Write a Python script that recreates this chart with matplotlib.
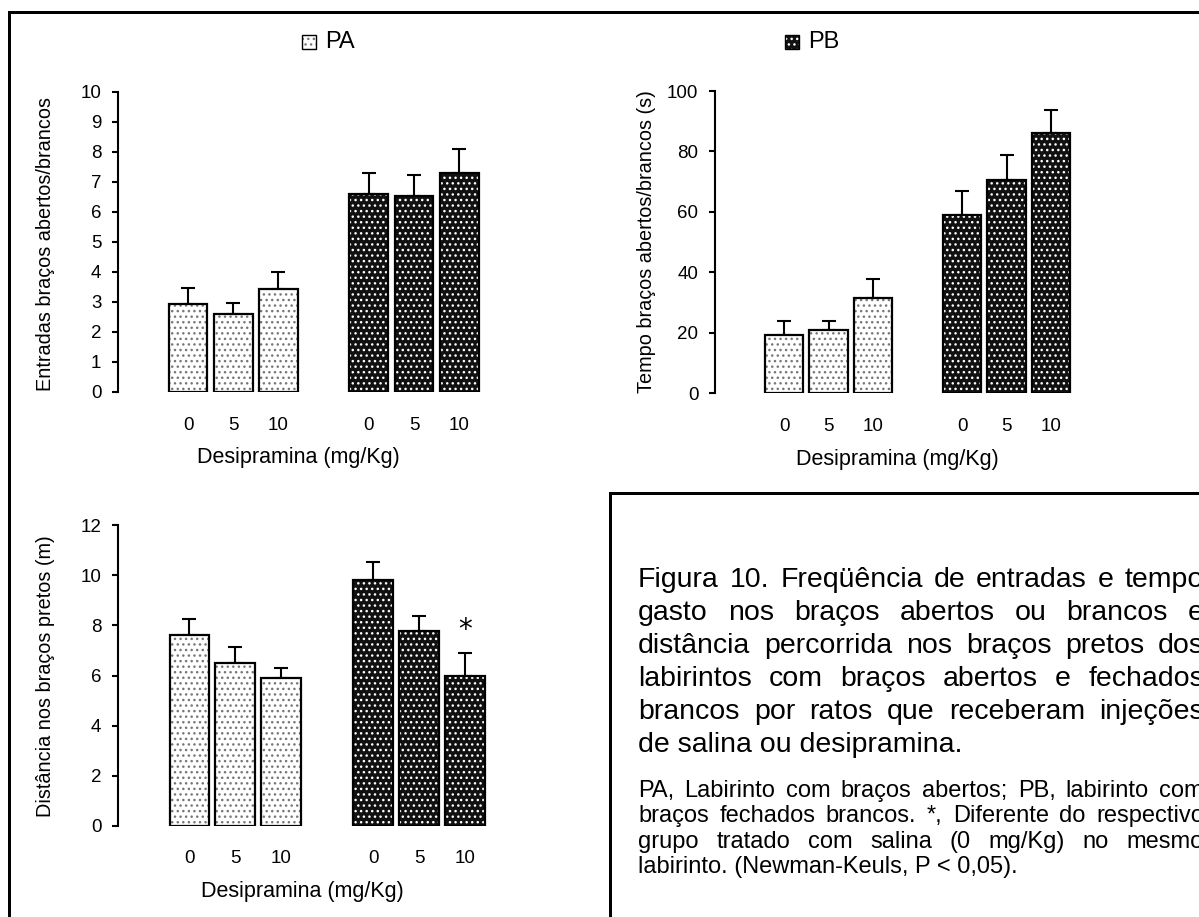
import numpy as np
import matplotlib
matplotlib.use('Agg')
import matplotlib.pyplot as plt
from matplotlib.lines import Line2D
from matplotlib.patches import Rectangle

W, H = 1199, 917

doses = ['0', '5', '10']
groups = ['PA', 'PB']

# entradas bracos abertos/brancos
ent_pa = [2.93, 2.60, 3.43]
ent_pa_sem = [0.55, 0.38, 0.56]
ent_pb = [6.61, 6.54, 7.31]
ent_pb_sem = [0.68, 0.68, 0.80]

# tempo bracos abertos/brancos (s)
tem_pa = [19.3, 21.0, 31.3]
tem_pa_sem = [4.7, 3.0, 6.5]
tem_pb = [59.0, 70.6, 86.1]
tem_pb_sem = [7.8, 8.2, 7.7]

# distancia nos bracos pretos (m)
dis_pa = [7.62, 6.50, 5.89]
dis_pa_sem = [0.63, 0.64, 0.39]
dis_pb = [9.82, 7.77, 5.97]
dis_pb_sem = [0.70, 0.62, 0.93]
dis_sig = [False, False, False, False, False, True]

regular = ['Liberation Sans', 'DejaVu Sans']
plt.rcParams['font.family'] = regular
plt.rcParams['hatch.linewidth'] = 1.0

fig = plt.figure(figsize=(W / 100, H / 100), dpi=100)


def px_rect(left, top, bottom, width):
    return [left / W, 1 - bottom / H, width / W, (bottom - top) / H]


def draw_bars(ax, pa, pa_sem, pb, pb_sem, ymax, ytick_step):
    xpa = np.array([0, 1, 2])
    xpb = np.array([4, 5, 6])
    bw = 0.86
    # pattern layers (hatch colour follows edgecolor)
    ax.bar(xpa, pa, bw, color='white', edgecolor='#777777', hatch='...', lw=0, zorder=2)
    ax.bar(xpb, pb, bw, color='#111111', edgecolor='white', hatch='...', lw=0, zorder=2)
    # outlines
    ax.bar(xpa, pa, bw, fill=False, edgecolor='black', lw=1.6, zorder=3)
    ax.bar(xpb, pb, bw, fill=False, edgecolor='black', lw=1.6, zorder=3)
    ax.errorbar(xpa, pa, yerr=[np.zeros(3), pa_sem], fmt='none', ecolor='black',
                elinewidth=1.5, capsize=5, capthick=1.5, zorder=1)
    ax.errorbar(xpb, pb, yerr=[np.zeros(3), pb_sem], fmt='none', ecolor='black',
                elinewidth=1.5, capsize=5, capthick=1.5, zorder=1)
    ax.set_ylim(0, ymax)
    ax.set_xlim(-1.55, 7.3)
    ax.set_yticks(np.arange(0, ymax + 0.01, ytick_step))
    ax.set_xticks(list(xpa) + list(xpb))
    ax.set_xticklabels(doses + doses)
    for s in ['top', 'right', 'bottom']:
        ax.spines[s].set_visible(False)
    ax.spines['left'].set_linewidth(1.5)
    ax.tick_params(axis='y', direction='out', length=4, width=1.5, labelsize=13.5, pad=8)
    ax.tick_params(axis='x', length=0, labelsize=13.5, pad=18)
    ax.set_facecolor('none')
    return xpa, xpb


ax1 = fig.add_axes(px_rect(118, 92, 392, 400))
draw_bars(ax1, ent_pa, ent_pa_sem, ent_pb, ent_pb_sem, 10, 1)

ax2 = fig.add_axes(px_rect(715, 91, 393, 394))
draw_bars(ax2, tem_pa, tem_pa_sem, tem_pb, tem_pb_sem, 100, 20)

ax3 = fig.add_axes(px_rect(118, 525, 826, 407))
xpa, xpb = draw_bars(ax3, dis_pa, dis_pa_sem, dis_pb, dis_pb_sem, 12, 2)
ax3.tick_params(axis='x', pad=17)
allx = list(xpa) + list(xpb)
allv = dis_pa + dis_pb
alls = dis_pa_sem + dis_pb_sem
for x, v, s, sig in zip(allx, allv, alls, dis_sig):
    if sig:
        ax3.text(x, v + s + 0.35, '*', ha='center', va='bottom', fontsize=20,
                 family=['DejaVu Sans'])


def ftext(x, y, s, **kw):
    return fig.text(x / W, 1 - y / H, s, **kw)


# axis labels
ftext(298, 457, 'Desipramina (mg/Kg)', ha='center', va='center', fontsize=15.5)
ftext(897, 460, 'Desipramina (mg/Kg)', ha='center', va='center', fontsize=15.5)
ftext(302, 891, 'Desipramina (mg/Kg)', ha='center', va='center', fontsize=15.5)
ftext(46, 244, 'Entradas braços abertos/brancos', ha='center', va='center',
      rotation=90, fontsize=14.3)
ftext(647, 242, 'Tempo braços abertos/brancos (s)', ha='center', va='center',
      rotation=90, fontsize=14.3)
ftext(46, 676, 'Distância nos braços pretos (m)', ha='center', va='center',
      rotation=90, fontsize=14.3)

# legend
for (lx, tx, name, fc, hc) in [(302, 325, groups[0], 'white', '#777777'),
                               (785, 808, groups[1], '#111111', 'white')]:
    r = Rectangle((lx / W, 1 - 49 / H), 14 / W, 14 / H, transform=fig.transFigure,
                  facecolor=fc, edgecolor=hc, hatch='...', lw=0)
    fig.add_artist(r)
    r2 = Rectangle((lx / W, 1 - 49 / H), 14 / W, 14 / H, transform=fig.transFigure,
                   fill=False, edgecolor='black', lw=1.0)
    fig.add_artist(r2)
    ftext(tx, 42, name, ha='left', va='center', fontsize=17)

# frames
lw_px = 3 * 0.72
fig.add_artist(Line2D([9 / W, 9 / W], [0, 1 - 11.5 / H], color='black', lw=lw_px))
fig.add_artist(Line2D([9 / W, 1], [1 - 11.5 / H, 1 - 11.5 / H], color='black', lw=lw_px))
fig.add_artist(Line2D([610 / W, 610 / W], [0, 1 - 493 / H], color='black', lw=lw_px))
fig.add_artist(Line2D([610 / W, 1], [1 - 493 / H, 1 - 493 / H], color='black', lw=lw_px))

# caption, justified
caption = ['Figura 10. Freqüência de entradas e tempo',
           'gasto nos braços abertos ou brancos e',
           'distância percorrida nos braços pretos dos',
           'labirintos com braços abertos e fechados',
           'brancos por ratos que receberam injeções',
           'de salina ou desipramina.']
note = ['PA, Labirinto com braços abertos; PB, labirinto com',
        'braços fechados brancos. *, Diferente do respectivo',
        'grupo tratado com salina (0 mg/Kg) no mesmo',
        'labirinto. (Newman-Keuls, P < 0,05).']

fig.canvas.draw()
renderer = fig.canvas.get_renderer()


def justified(lines, x0, x1, y0, dy, size):
    for i, line in enumerate(lines):
        y = y0 + i * dy
        words = line.split(' ')
        if i == len(lines) - 1:
            ftext(x0, y, line, ha='left', va='baseline', fontsize=size)
            continue
        objs = [ftext(0, y, w, ha='left', va='baseline', fontsize=size) for w in words]
        widths = [o.get_window_extent(renderer).width for o in objs]
        gap = (x1 - x0 - sum(widths)) / (len(words) - 1)
        x = x0
        for o, w in zip(objs, widths):
            o.set_x(x / W)
            x += w + gap


justified(caption, 638, 1204, 587, 33, 20.5)
justified(note, 638, 1204, 797, 25.3, 17)

fig.savefig('out.png', dpi=100)
